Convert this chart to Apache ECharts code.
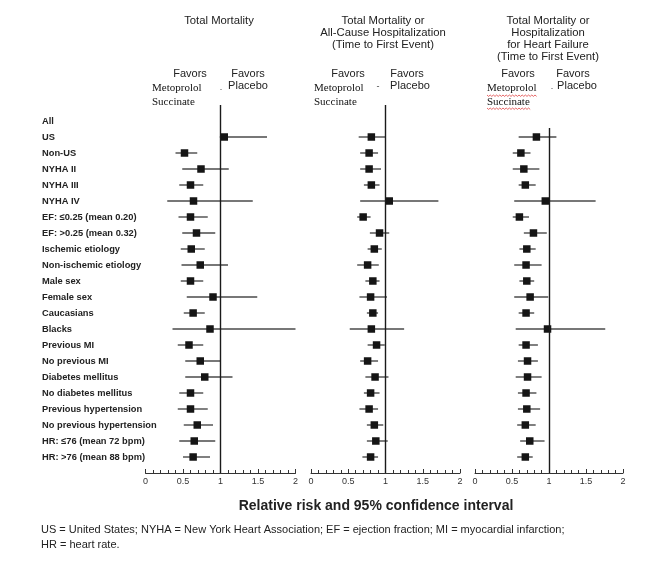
<!DOCTYPE html>
<html><head><meta charset="utf-8">
<script src="https://cdn.jsdelivr.net/npm/echarts@6/dist/echarts.min.js"></script>
<style>html,body{margin:0;padding:0;background:#fff}#c{width:671px;height:569px}</style>
</head><body><div id="c"></div>
<script>
// ---- data ----
const subgroups = ['All','US','Non-US','NYHA II','NYHA III','NYHA IV',
  'EF: \u22640.25 (mean 0.20)','EF: >0.25 (mean 0.32)','Ischemic etiology','Non-ischemic etiology',
  'Male sex','Female sex','Caucasians','Blacks','Previous MI','No previous MI','Diabetes mellitus',
  'No diabetes mellitus','Previous hypertension','No previous hypertension',
  'HR: \u226476 (mean 72 bpm)','HR: >76 (mean 88 bpm)'];

const panelTitles = ['Total Mortality',
  'Total Mortality or\nAll-Cause Hospitalization\n(Time to First Event)',
  'Total Mortality or\nHospitalization\nfor Heart Failure\n(Time to First Event)'];

const xTickLabels = ['0','0.5','1','1.5','2'];

// Total mortality
const mortRR   = [null,1.05,0.52,0.74,0.60,0.64,0.60,0.68,0.61,0.73,0.60,0.90,0.635,0.86,0.58,0.73,0.79,0.60,0.60,0.69,0.65,0.635];
const mortLow  = [null,0.99,0.40,0.49,0.45,0.29,0.44,0.49,0.47,0.48,0.47,0.55,0.51,0.36,0.43,0.53,0.53,0.45,0.43,0.51,0.45,0.50];
const mortHigh = [null,1.62,0.69,1.11,0.77,1.43,0.83,0.93,0.79,1.10,0.77,1.49,0.79,2.00,0.77,1.00,1.16,0.77,0.83,0.90,0.93,0.86];

// Total mortality or all-cause hospitalization
const hospRR   = [null,0.81,0.78,0.78,0.81,1.05,0.70,0.92,0.85,0.76,0.83,0.80,0.83,0.81,0.88,0.76,0.86,0.80,0.78,0.85,0.87,0.80];
const hospLow  = [null,0.64,0.66,0.66,0.71,0.66,0.62,0.79,0.76,0.62,0.73,0.65,0.75,0.52,0.76,0.66,0.73,0.71,0.65,0.75,0.75,0.69];
const hospHigh = [null,1.00,0.90,0.94,0.92,1.71,0.80,1.05,0.95,0.91,0.92,1.02,0.90,1.25,0.99,0.90,1.04,0.92,0.90,0.97,1.03,0.90];

// Total mortality or hospitalization for heart failure
const hfRR   = [null,0.83,0.62,0.66,0.68,0.95,0.60,0.79,0.70,0.69,0.70,0.745,0.69,0.98,0.69,0.71,0.71,0.69,0.70,0.68,0.74,0.68];
const hfLow  = [null,0.59,0.51,0.51,0.59,0.53,0.51,0.66,0.60,0.53,0.60,0.53,0.59,0.55,0.59,0.58,0.55,0.58,0.58,0.57,0.61,0.57];
const hfHigh = [null,1.10,0.75,0.87,0.82,1.63,0.73,0.97,0.82,0.90,0.80,0.99,0.80,1.76,0.85,0.85,0.90,0.83,0.88,0.82,0.94,0.78];

const refValue = 1;
const refLineTop = [-1, -1, 0.44]; // row-units where the reference line begins

// ---- chart ----
const panels = [[mortRR,mortLow,mortHigh],[hospRR,hospLow,hospHigh],[hfRR,hfLow,hfHigh]];
const gridPos = [{left:145.5,width:150},{left:311,width:149},{left:475,width:148}];
const FONT = 'Liberation Sans, Arial, sans-serif';
const SERIF = 'Liberation Serif, Times New Roman, serif';

function renderCI(params, api){
  const y = api.value(0), rr = api.value(1), lo = api.value(2), hi = api.value(3);
  const pL = api.coord([lo, y]), pH = api.coord([hi, y]), pM = api.coord([rr, y]);
  const s = 7.5;
  return {type:'group', children:[
    {type:'line', shape:{x1:pL[0],y1:pL[1],x2:pH[0],y2:pH[1]}, style:{stroke:'#4a4a4a',lineWidth:1.4}},
    {type:'rect', shape:{x:pM[0]-s/2,y:pM[1]-s/2,width:s,height:s}, style:{fill:'#151515'}}
  ]};
}

const grids=[], xAxes=[], yAxes=[], series=[];
panels.forEach((p,i)=>{
  grids.push({left:gridPos[i].left, width:gridPos[i].width, top:105, height:368, containLabel:false, outerBoundsMode:'none'});
  xAxes.push({type:'value', gridIndex:i, min:0, max:2, interval:0.5,
    axisLine:{show:true, onZero:false, lineStyle:{color:'#333',width:1}},
    axisTick:{show:true, inside:true, length:4, lineStyle:{color:'#333'}},
    minorTick:{show:true, splitNumber:5, length:3, lineStyle:{color:'#333'}},
    splitLine:{show:false}, minorSplitLine:{show:false},
    axisLabel:{fontSize:9, color:'#333', fontFamily:FONT, margin:4,
      formatter:(v)=>xTickLabels[Math.round(v/0.5)] ?? ''}});
  yAxes.push({type:'value', gridIndex:i, inverse:true, min:-1, max:22, interval:1,
    axisLine:{show:false}, axisTick:{show:false}, splitLine:{show:false},
    axisLabel:{show:i===0, align:'left', margin:103.5, fontSize:9.3, fontWeight:'bold',
      color:'#222', fontFamily:FONT, padding:[0,0,8,0],
      formatter:(v)=>subgroups[v] ?? ''}});
  const data=[];
  subgroups.forEach((g,k)=>{ if(p[0][k]!=null) data.push([k,p[0][k],p[1][k],p[2][k]]); });
  series.push({type:'custom', xAxisIndex:i, yAxisIndex:i, renderItem:renderCI,
    encode:{x:[1,2,3], y:0}, data:data, silent:true, clip:false,
    markLine:{silent:true, symbol:'none', label:{show:false},
      lineStyle:{color:'#1a1a1a', width:1.4, type:'solid'},
      data:[[{coord:[refValue, refLineTop[i]]},{coord:[refValue, 22]}]]}});
});

// header / annotation graphics
const g=[];
const centers=[219,383,548];
panelTitles.forEach((t,i)=>{
  g.push({type:'text', x:centers[i], y:14.5, style:{text:t, fill:'#222', font:'11.3px '+FONT,
    textAlign:'center', textVerticalAlign:'top', lineHeight:12}});
});
const fav = [
  {l:190, r:248, r2:248, ml:152, dot:[221,88,'.']},
  {l:348, r:407, r2:410, ml:314, dot:[378,87,'-']},
  {l:518, r:573, r2:577, ml:487, dot:[552,87,'.']}
];
fav.forEach(f=>{
  g.push({type:'text', x:f.l, y:74, style:{text:'Favors', fill:'#222', font:'11px '+FONT, textAlign:'center', textVerticalAlign:'middle'}});
  g.push({type:'text', x:f.r, y:74, style:{text:'Favors', fill:'#222', font:'11px '+FONT, textAlign:'center', textVerticalAlign:'middle'}});
  g.push({type:'text', x:f.r2, y:86, style:{text:'Placebo', fill:'#222', font:'11px '+FONT, textAlign:'center', textVerticalAlign:'middle'}});
  g.push({type:'text', x:f.ml, y:88.5, style:{text:'Metoprolol', fill:'#111', font:'11px '+SERIF, textAlign:'left', textVerticalAlign:'middle'}});
  g.push({type:'text', x:f.ml, y:102, style:{text:'Succinate', fill:'#111', font:'11px '+SERIF, textAlign:'left', textVerticalAlign:'middle'}});
  g.push({type:'text', x:f.dot[0], y:f.dot[1], style:{text:f.dot[2], fill:'#444', font:'9px '+FONT, textAlign:'center', textVerticalAlign:'middle'}});
});
// spell-check style wavy underline (panel 3)
function zigzag(x0,x1,y){ const pts=[]; let up=true; for(let x=x0;x<=x1;x+=1.6){pts.push([x,y+(up?0:1.4)]);up=!up;} return pts; }
g.push({type:'polyline', shape:{points:zigzag(487,537,95)}, style:{stroke:'#e04040', lineWidth:0.8, fill:null}});
g.push({type:'polyline', shape:{points:zigzag(487,531,108)}, style:{stroke:'#e04040', lineWidth:0.8, fill:null}});

g.push({type:'text', x:376, y:506, style:{text:'Relative risk and 95% confidence interval', fill:'#222',
  font:'bold 14px '+FONT, textAlign:'center', textVerticalAlign:'middle'}});
g.push({type:'text', x:41, y:522.5, style:{text:'US = United States; NYHA = New York Heart Association; EF = ejection fraction; MI = myocardial infarction;\nHR = heart rate.',
  fill:'#222', font:'11px '+FONT, textAlign:'left', textVerticalAlign:'top', lineHeight:15}});

const chart = echarts.init(document.getElementById('c'), null, {renderer:'canvas'});
chart.setOption({animation:false, backgroundColor:'#fff', grid:grids, xAxis:xAxes, yAxis:yAxes, series:series, graphic:g});
</script></body></html>
